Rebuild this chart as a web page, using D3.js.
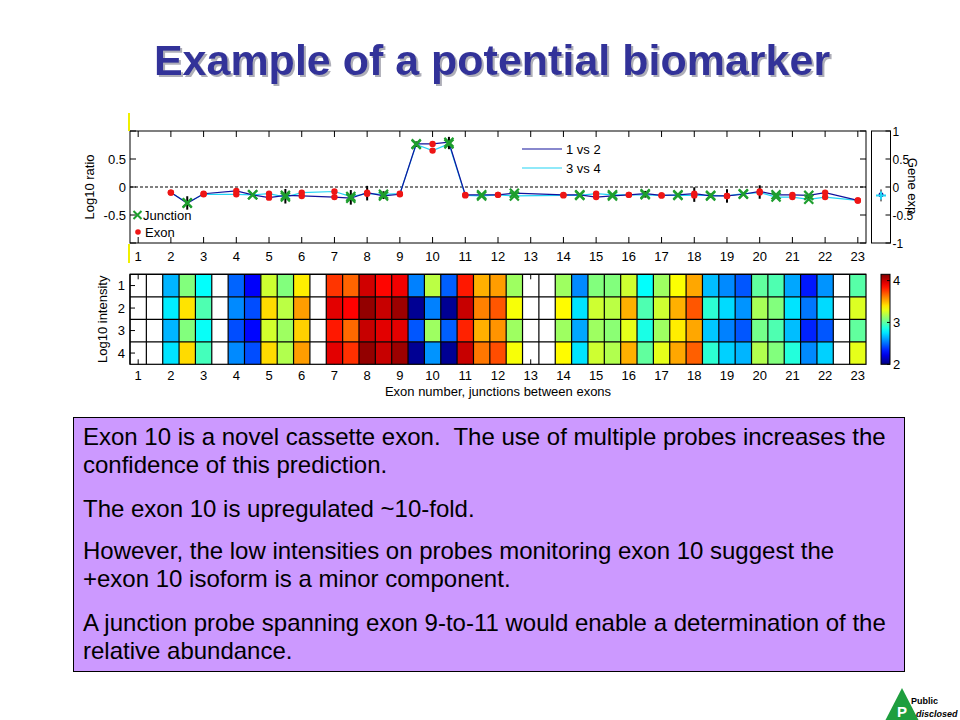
<!DOCTYPE html>
<html>
<head>
<meta charset="utf-8">
<script src="https://cdn.jsdelivr.net/npm/d3@7"></script>
<style>
  body { margin: 0; background: #fff; }
  text { font-family: "Liberation Sans", Arial, sans-serif; }
</style>
</head>
<body>
<svg id="slide" width="960" height="720"></svg>
<script>
// probes: whole numbers are exons, halves are junctions
const probePos = [2, 2.5, 3, 4, 4.5, 5, 5.5, 6, 7, 7.5, 8, 8.5, 9, 9.5, 10, 10.5, 11, 11.5, 12, 12.5,
                  14, 14.5, 15, 15.5, 16, 16.5, 17, 17.5, 18, 18.5, 19, 19.5, 20, 20.5, 21, 21.5, 22, 23];
const ratio12 = [-0.10, -0.29, -0.12, -0.07, -0.14, -0.19, -0.15, -0.16, -0.18, -0.20, -0.10, -0.16, -0.13, 0.77, 0.77, 0.80, -0.14, -0.14, -0.14, -0.11,
                 -0.14, -0.14, -0.18, -0.16, -0.14, -0.12, -0.15, -0.14, -0.12, -0.16, -0.16, -0.13, -0.08, -0.14, -0.14, -0.15, -0.10, -0.24];
const ratio34 = [-0.10, -0.28, -0.13, -0.13, -0.14, -0.12, -0.18, -0.10, -0.08, -0.17, -0.12, -0.13, -0.12, 0.76, 0.65, 0.77, -0.15, -0.16, -0.14, -0.16,
                 -0.15, -0.15, -0.12, -0.14, -0.14, -0.14, -0.15, -0.15, -0.15, -0.15, -0.16, -0.12, -0.10, -0.18, -0.18, -0.22, -0.18, -0.24];
const errHalf = [0, 0.12, 0, 0, 0.02, 0, 0.13, 0, 0, 0.13, 0.13, 0.07, 0, 0.05, 0, 0.11, 0, 0, 0, 0,
                 0, 0.03, 0, 0, 0, 0.06, 0, 0, 0.13, 0.04, 0.12, 0, 0.12, 0, 0, 0.06, 0, 0];
const geneExp12 = -0.14, geneExp34 = -0.15;

const xTicks = [1, 2, 3, 4, 5, 6, 7, 8, 9, 10, 11, 12, 13, 14, 15, 16, 17, 18, 19, 20, 21, 22, 23];
const yTicks = [-1, -0.5, 0, 0.5, 1];
const yLabelled = [-0.5, 0, 0.5];
const geneTicks = [-1, -0.5, 0, 0.5, 1];

// heatmap: one column per probe slot, 4 arrays (rows); null = no probe
const heatPos = [1, 1.5, 2, 2.5, 3, 3.5, 4, 4.5, 5, 5.5, 6, 6.5, 7, 7.5, 8, 8.5, 9, 9.5, 10, 10.5, 11, 11.5, 12, 12.5,
                 13, 13.5, 14, 14.5, 15, 15.5, 16, 16.5, 17, 17.5, 18, 18.5, 19, 19.5, 20, 20.5, 21, 21.5, 22, 22.5, 23];
const heatRow1 = [null, null, 2.65, 3.08, 2.81, null, 2.48, 2.26, 3.24, 3.08, 3.38, null, 3.77, 3.67, 3.98, 3.87, 3.91, 2.54, 3.20, 2.47, 3.83, 3.51, 3.55, 3.14,
                  null, null, 3.14, 2.56, 3.08, 3.08, 3.24, 2.81, 3.14, 3.34, 3.53, 2.67, 2.56, 2.45, 3.01, 2.97, 2.62, 2.32, 2.58, null, 2.99];
const heatRow2 = [null, null, 2.77, 3.40, 2.97, null, 2.56, 2.43, 3.42, 3.20, 3.55, null, 3.94, 3.88, 4.11, 4.00, 4.09, 2.04, 2.54, 2.04, 4.00, 3.61, 3.70, 3.33,
                  null, null, 3.35, 2.75, 3.24, 3.20, 3.51, 2.97, 3.24, 3.51, 3.70, 2.90, 2.73, 2.58, 3.16, 3.08, 2.75, 2.52, 2.73, null, 3.27];
const heatRow3 = [null, null, 2.65, 3.08, 2.82, null, 2.43, 2.28, 3.25, 3.14, 3.44, null, 3.83, 3.66, 4.00, 3.94, 3.94, 2.45, 3.14, 2.47, 3.81, 3.51, 3.57, 3.14,
                  null, null, 3.14, 2.62, 3.14, 3.10, 3.29, 2.86, 3.14, 3.38, 3.53, 2.69, 2.54, 2.45, 3.05, 2.97, 2.67, 2.34, 2.45, null, 3.01];
const heatRow4 = [null, null, 2.75, 3.42, 2.95, null, 2.56, 2.43, 3.42, 3.18, 3.55, null, 3.94, 3.78, 4.11, 4.00, 4.09, 2.04, 2.58, 2.04, 4.00, 3.63, 3.72, 3.33,
                  null, null, 3.35, 2.75, 3.24, 3.18, 3.51, 3.01, 3.29, 3.53, 3.68, 2.90, 2.71, 2.65, 3.18, 3.08, 2.88, 2.56, 2.71, null, 3.29];
const heatRows = [1, 2, 3, 4];
const colorTicks = [2, 3, 4];

const bodyLines = [
  "Exon 10 is a novel cassette exon.  The use of multiple probes increases the",
  "confidence of this prediction.",
  "The exon 10 is upregulated ~10-fold.",
  "However, the low intensities on probes monitoring exon 10 suggest the",
  "+exon 10 isoform is a minor component.",
  "A junction probe spanning exon 9-to-11 would enable a determination of the",
  "relative abundance."
];
const bodyBase = [445, 473, 517, 559, 587, 631, 659];

const svg = d3.select("#slide");
const C_BLUE = "#12129c", C_CYAN = "#22d4f4", C_RED = "#ee1515", C_GREEN = "#1e9e2e";
const defs = svg.append("defs");

// ---------- title ----------
const shadow = defs.append("filter").attr("id", "shadow").attr("x", "-5%").attr("y", "-20%").attr("width", "110%").attr("height", "140%");
shadow.append("feDropShadow").attr("dx", 2).attr("dy", 2).attr("stdDeviation", 0.6)
      .attr("flood-color", "#9a9aa6").attr("flood-opacity", 0.8);
svg.append("text").attr("x", 492).attr("y", 75).attr("text-anchor", "middle")
   .attr("font-size", "43px").attr("font-weight", "bold").attr("fill", "#333399")
   .attr("filter", "url(#shadow)")
   .text("Example of a potential biomarker");

// ---------- top ratio plot ----------
const x = d3.scaleLinear().domain([0.75, 23.25]).range([130, 866]);
const y = d3.scaleLinear().domain([-1, 1]).range([243, 131]);
const ratioG = svg.append("g");

ratioG.append("rect").attr("x", x(0.75)).attr("y", y(1)).attr("width", x(23.25) - x(0.75)).attr("height", y(-1) - y(1))
   .attr("fill", "#fff");

xTicks.forEach(t => {
  ratioG.append("line").attr("x1", x(t)).attr("x2", x(t)).attr("y1", y(1)).attr("y2", y(1) + 6).attr("stroke", "#000");
  ratioG.append("line").attr("x1", x(t)).attr("x2", x(t)).attr("y1", y(-1)).attr("y2", y(-1) - 6).attr("stroke", "#000");
  ratioG.append("text").attr("x", x(t)).attr("y", 260.5).attr("text-anchor", "middle")
     .attr("font-size", "13px").text(t);
});
yTicks.forEach(t => {
  ratioG.append("line").attr("x1", x(0.75)).attr("x2", x(0.75) + 6).attr("y1", y(t)).attr("y2", y(t)).attr("stroke", "#000");
  ratioG.append("line").attr("x1", x(23.25)).attr("x2", x(23.25) - 6).attr("y1", y(t)).attr("y2", y(t)).attr("stroke", "#000");
});
yLabelled.forEach(t => {
  ratioG.append("text").attr("x", 126).attr("y", y(t) + 4.5).attr("text-anchor", "end")
     .attr("font-size", "13px").text(t);
});
ratioG.append("text").attr("transform", `translate(94,${y(0)}) rotate(-90)`).attr("text-anchor", "middle")
   .attr("font-size", "13px").text("Log10 ratio");

// zero reference
ratioG.append("line").attr("x1", x(0.75)).attr("x2", x(23.25)).attr("y1", y(0)).attr("y2", y(0))
   .attr("stroke", "#000").attr("stroke-dasharray", "3,2");

const line = d3.line().x(d => x(d[0])).y(d => y(d[1]));
ratioG.append("path").datum(probePos.map((p, i) => [p, ratio34[i]])).attr("d", line)
   .attr("fill", "none").attr("stroke", C_CYAN).attr("stroke-width", 1.2);
ratioG.append("path").datum(probePos.map((p, i) => [p, ratio12[i]])).attr("d", line)
   .attr("fill", "none").attr("stroke", C_BLUE).attr("stroke-width", 1.2);

// error bars
probePos.forEach((p, i) => {
  if (!errHalf[i]) return;
  const m = (ratio12[i] + ratio34[i]) / 2;
  ratioG.append("line").attr("x1", x(p)).attr("x2", x(p)).attr("y1", y(m - errHalf[i])).attr("y2", y(m + errHalf[i]))
     .attr("stroke", "#000").attr("stroke-width", 2);
});

function cross(g, cx, cy, s, col, w) {
  g.append("path").attr("d", `M${cx - s},${cy - s}L${cx + s},${cy + s}M${cx - s},${cy + s}L${cx + s},${cy - s}`)
   .attr("stroke", col).attr("stroke-width", w).attr("fill", "none");
}
probePos.forEach((p, i) => {
  [ratio12[i], ratio34[i]].forEach(v => {
    if (p % 1 === 0) {
      ratioG.append("circle").attr("cx", x(p)).attr("cy", y(v)).attr("r", 3.2).attr("fill", C_RED);
    } else {
      cross(ratioG, x(p), y(v), 4.5, C_GREEN, 2.2);
    }
  });
});

ratioG.append("rect").attr("x", x(0.75)).attr("y", y(1)).attr("width", x(23.25) - x(0.75)).attr("height", y(-1) - y(1))
   .attr("fill", "none").attr("stroke", "#000");

// marker legend (lower left)
cross(ratioG, 137.5, 215, 4, C_GREEN, 2);
ratioG.append("text").attr("x", 143).attr("y", 219.5).attr("font-size", "13px").text("Junction");
ratioG.append("circle").attr("cx", 138).attr("cy", 232).attr("r", 2.8).attr("fill", C_RED);
ratioG.append("text").attr("x", 145).attr("y", 236.5).attr("font-size", "13px").text("Exon");

// line legend
[["1 vs 2", C_BLUE, 149], ["3 vs 4", C_CYAN, 168]].forEach(([lab, col, ly]) => {
  ratioG.append("line").attr("x1", 522).attr("x2", 562).attr("y1", ly).attr("y2", ly).attr("stroke", col).attr("stroke-width", 1.2);
  ratioG.append("text").attr("x", 566).attr("y", ly + 4.5).attr("font-size", "13px").text(lab);
});

// yellow marks at the left edge
ratioG.append("line").attr("x1", 129).attr("x2", 129).attr("y1", 113).attr("y2", 131).attr("stroke", "#f0f000").attr("stroke-width", 2);
ratioG.append("line").attr("x1", 129).attr("x2", 129).attr("y1", 244).attr("y2", 263).attr("stroke", "#f0f000").attr("stroke-width", 2);

// ---------- gene expression side panel ----------
const gx0 = 871.5, gx1 = 890.5;
const gene = svg.append("g");
gene.append("rect").attr("x", gx0).attr("y", y(1)).attr("width", gx1 - gx0).attr("height", y(-1) - y(1))
    .attr("fill", "#fff").attr("stroke", "#000");
geneTicks.forEach(t => {
  gene.append("line").attr("x1", gx1).attr("x2", gx1 - 5).attr("y1", y(t)).attr("y2", y(t)).attr("stroke", "#000");
  gene.append("text").attr("x", gx1 + 2).attr("y", y(t) + 4.5).attr("font-size", "12px").text(t);
});
const gcx = (gx0 + gx1) / 2;
gene.append("line").attr("x1", gcx).attr("x2", gcx).attr("y1", y(geneExp34) - 6).attr("y2", y(geneExp34) + 6)
    .attr("stroke", "#000").attr("stroke-width", 1);
gene.append("circle").attr("cx", gcx).attr("cy", y(geneExp12)).attr("r", 2.5).attr("fill", C_BLUE);
gene.append("path").attr("d", `M${gcx - 5},${y(geneExp34)}H${gcx + 5}M${gcx},${y(geneExp34) - 4}V${y(geneExp34) + 4}`)
    .attr("stroke", C_CYAN).attr("stroke-width", 2);
gene.append("text").attr("transform", `translate(908,186) rotate(90)`).attr("text-anchor", "middle")
    .attr("font-size", "13px").text("Gene exp");

// ---------- heatmap ----------
const yb = d3.scaleBand().domain(heatRows).range([274.3, 364.3]);
const cmin = 2, cmax = 4.15;
const jetStops = [0, 0.125, 0.375, 0.625, 0.875, 1];
const color = d3.scaleLinear().domain(jetStops.map(t => cmin + t * (cmax - cmin)))
  .range(["#000080", "#0000ff", "#00ffff", "#ffff00", "#ff0000", "#800000"]).clamp(true);
const heat = svg.append("g");
const hx0 = x(0.75), hx1 = x(23.25), hy0 = yb.range()[0], hy1 = yb.range()[1];

xTicks.forEach(t => {
  heat.append("line").attr("x1", x(t)).attr("x2", x(t)).attr("y1", hy0).attr("y2", hy0 + 5).attr("stroke", "#000");
  heat.append("line").attr("x1", x(t)).attr("x2", x(t)).attr("y1", hy1).attr("y2", hy1 - 5).attr("stroke", "#000");
  heat.append("text").attr("x", x(t)).attr("y", 380).attr("text-anchor", "middle").attr("font-size", "13px").text(t);
});
heatRows.forEach(r => {
  const ry = yb(r) + yb.bandwidth() / 2;
  heat.append("line").attr("x1", hx0).attr("x2", hx0 + 5).attr("y1", ry).attr("y2", ry).attr("stroke", "#000");
  heat.append("text").attr("x", 125).attr("y", ry + 4.5).attr("text-anchor", "end").attr("font-size", "13px").text(r);
});

[heatRow1, heatRow2, heatRow3, heatRow4].forEach((row, ri) => {
  row.forEach((v, ci) => {
    if (v === null) return;
    const p = heatPos[ci];
    heat.append("rect").attr("x", x(p - 0.25)).attr("y", yb(heatRows[ri]))
        .attr("width", x(p + 0.25) - x(p - 0.25)).attr("height", yb.bandwidth()).attr("fill", color(v));
  });
});
// cell grid
heatPos.forEach(p => {
  heat.append("line").attr("x1", x(p - 0.25)).attr("x2", x(p - 0.25)).attr("y1", hy0).attr("y2", hy1)
      .attr("stroke", "#000").attr("stroke-width", 1.2);
});
heatRows.forEach(r => {
  heat.append("line").attr("x1", hx0).attr("x2", hx1).attr("y1", yb(r)).attr("y2", yb(r))
      .attr("stroke", "#000").attr("stroke-width", 1.2);
});
heat.append("rect").attr("x", hx0).attr("y", hy0).attr("width", hx1 - hx0).attr("height", hy1 - hy0)
    .attr("fill", "none").attr("stroke", "#000").attr("stroke-width", 1.2);

heat.append("text").attr("transform", `translate(107,${(hy0 + hy1) / 2}) rotate(-90)`).attr("text-anchor", "middle")
    .attr("font-size", "13px").text("Log10 intensity");
heat.append("text").attr("x", (hx0 + hx1) / 2).attr("y", 396).attr("text-anchor", "middle")
    .attr("font-size", "13px").text("Exon number, junctions between exons");

// colour bar
const cbY = d3.scaleLinear().domain([cmin, cmax]).range([hy1, hy0]);
const grad = defs.append("linearGradient").attr("id", "jet")
  .attr("x1", 0).attr("y1", 1).attr("x2", 0).attr("y2", 0);
d3.range(0, 1.0001, 0.05).forEach(t => {
  grad.append("stop").attr("offset", t).attr("stop-color", color(cmin + t * (cmax - cmin)));
});
const cb0 = 881, cb1 = 890;
svg.append("rect").attr("x", cb0).attr("y", hy0).attr("width", cb1 - cb0).attr("height", hy1 - hy0)
   .attr("fill", "url(#jet)").attr("stroke", "#000");
colorTicks.forEach(t => {
  svg.append("line").attr("x1", cb1).attr("x2", cb1 - 3).attr("y1", cbY(t)).attr("y2", cbY(t)).attr("stroke", "#000");
  svg.append("text").attr("x", cb1 + 3).attr("y", cbY(t) + 4.5).attr("font-size", "13px").text(t);
});

// ---------- text box ----------
svg.append("rect").attr("x", 73.5).attr("y", 417.5).attr("width", 831).attr("height", 254)
   .attr("fill", "#cc99ff").attr("stroke", "#000").attr("stroke-width", 1);
bodyLines.forEach((s, i) => {
  svg.append("text").attr("x", 83).attr("y", bodyBase[i]).attr("font-size", "24px")
     .style("white-space", "pre").text(s);
});

// ---------- logo ----------
const logo = svg.append("g");
logo.append("path").attr("d", "M902,688L885,721L919,721Z").attr("fill", "#1e9e3e");
logo.append("text").attr("x", 902).attr("y", 717).attr("text-anchor", "middle").attr("font-size", "15px")
    .attr("font-weight", "bold").attr("fill", "#fff").text("P");
logo.append("text").attr("x", 911).attr("y", 704).attr("font-size", "9px").attr("font-weight", "bold").text("Public");
logo.append("text").attr("x", 916).attr("y", 717).attr("font-size", "9px").attr("font-weight", "bold")
    .attr("font-style", "italic").text("disclosed");
</script>
</body>
</html>
